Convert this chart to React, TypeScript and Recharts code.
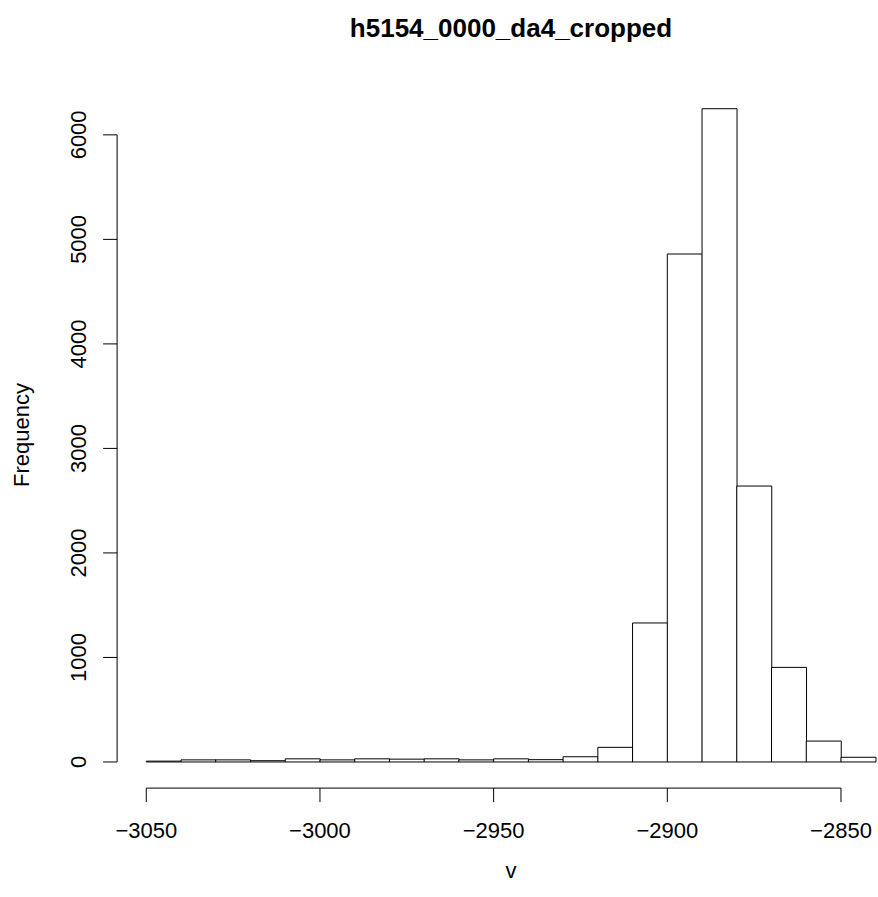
import React from "react";
import { ComposedChart, Bar, XAxis, YAxis, ReferenceLine } from "recharts";

// histogram of v: left edge of each 10-wide bin and its count
const binStarts = [
  -3050, -3040, -3030, -3020, -3010, -3000, -2990, -2980, -2970, -2960, -2950,
  -2940, -2930, -2920, -2910, -2900, -2890, -2880, -2870, -2860, -2850,
];
const counts = [
  8, 20, 20, 12, 30, 20, 30, 27, 30, 20, 30, 22, 50, 140, 1330, 4860, 6250,
  2640, 905, 200, 45,
];
const binWidth = 10;

const xTicks = [-3050, -3000, -2950, -2900, -2850];
const yTicks = [0, 1000, 2000, 3000, 4000, 5000, 6000];

const chartTitle = "h5154_0000_da4_cropped";
const xTitle = "v";
const yTitle = "Frequency";

const data = binStarts.map((lo, i) => ({ mid: lo + binWidth / 2, count: counts[i] }));

// R-style limits: data range padded by 4% on each side
const xLo = binStarts[0];
const xHi = binStarts[binStarts.length - 1] + binWidth;
const xPad = (xHi - xLo) * 0.04;
const yMax = Math.max(...counts);
const yPad = yMax * 0.04;

const FONT = '"Liberation Sans", Arial, Helvetica, sans-serif';
const minus = (v: number) => String(v).replace("-", "\u2212");

const YTick = (props: any) => {
  const { x, y, payload } = props;
  return (
    <text
      x={x}
      y={y}
      transform={`rotate(-90, ${x}, ${y})`}
      textAnchor="middle"
      fontSize={22}
      fontFamily={FONT}
      fill="#000"
    >
      {payload.value}
    </text>
  );
};

export default function App() {
  // fixed to the viewport so the wide plot region is simply cut at the window edge
  return (
    <div
      style={{
        position: "fixed",
        left: 0,
        top: 0,
        width: 878,
        height: 897,
        overflow: "hidden",
        background: "#fff",
      }}
    >
      <ComposedChart
        width={918}
        height={897}
        data={data}
        margin={{ top: 82.6, right: 13.1, bottom: 48.9, left: 0 }}
        barCategoryGap={0}
        barGap={0}
      >
        <XAxis
          dataKey="mid"
          type="number"
          domain={[xLo - xPad, xHi + xPad]}
          allowDataOverflow
          ticks={xTicks}
          tickFormatter={minus}
          axisLine={false}
          tickSize={14}
          tickMargin={20}
          height={60}
          tickLine={{ stroke: "#000", strokeWidth: 1 }}
          tick={{ fill: "#000", fontSize: 22, fontFamily: FONT }}
          interval={0}
        />
        <YAxis
          type="number"
          domain={[-yPad, yMax + yPad]}
          allowDataOverflow
          ticks={yTicks}
          axisLine={false}
          tickSize={14}
          tickMargin={17}
          width={117.1}
          tickLine={{ stroke: "#000", strokeWidth: 1 }}
          tick={<YTick />}
          interval={0}
        />
        <Bar dataKey="count" fill="#fff" stroke="#000" strokeWidth={1} isAnimationActive={false} />
        {/* axis lines only span the tick range, as in base R */}
        <ReferenceLine
          segment={[{ x: xTicks[0], y: -yPad }, { x: xTicks[xTicks.length - 1], y: -yPad }]}
          stroke="#000"
          strokeWidth={1}
          ifOverflow="visible"
        />
        <ReferenceLine
          segment={[{ x: xLo - xPad, y: yTicks[0] }, { x: xLo - xPad, y: yTicks[yTicks.length - 1] }]}
          stroke="#000"
          strokeWidth={1}
          ifOverflow="visible"
        />
      </ComposedChart>

      <div
        style={{
          position: "absolute",
          left: 511,
          top: 15,
          transform: "translateX(-50%)",
          fontFamily: FONT,
          fontWeight: "bold",
          fontSize: 26,
          lineHeight: "26px",
          whiteSpace: "nowrap",
        }}
      >
        {chartTitle}
      </div>
      <div
        style={{
          position: "absolute",
          left: 511,
          top: 860,
          transform: "translateX(-50%)",
          fontFamily: FONT,
          fontSize: 22,
          lineHeight: "22px",
        }}
      >
        {xTitle}
      </div>
      <div
        style={{
          position: "absolute",
          left: 22,
          top: 435,
          transform: "translate(-50%, -50%) rotate(-90deg)",
          fontFamily: FONT,
          fontSize: 22,
          lineHeight: "22px",
          whiteSpace: "nowrap",
        }}
      >
        {yTitle}
      </div>
    </div>
  );
}
